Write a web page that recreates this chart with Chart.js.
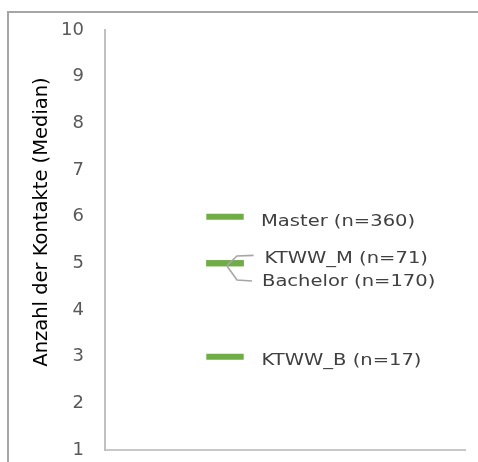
<!DOCTYPE html>
<html>
<head>
<meta charset="utf-8">
<script src="https://cdn.jsdelivr.net/npm/chart.js@4"></script>
<style>
  html, body { margin: 0; padding: 0; background: #fff; }
  #chart { display: block; }
</style>
</head>
<body>
<canvas id="chart" width="478" height="462"></canvas>
<script>
// Gruppen und Mediane der Kontakte
const gruppen = ['Master (n=360)', 'KTWW_M (n=71)', 'Bachelor (n=170)', 'KTWW_B (n=17)'];
const mediane = [6, 5, 5, 3];
const spalte = [1, 1, 1, 1];
const yTicks = [1, 2, 3, 4, 5, 6, 7, 8, 9, 10];
const achsenTitel = 'Anzahl der Kontakte (Median)';

const GRUEN = '#70ad47';
const TEXT_FONT = '"DejaVu Sans", sans-serif';

// Beschriftung rechts neben den Markern (Versatz zum Punkt, ggf. Führungslinie)
const beschriftung = [
    { dx: 36, dy: 9 },
    { dx: 39.5, dy: 0, linie: [[28.6, -8], [12, -7.3], [2, 2]] },
    { dx: 37, dy: 22.7, linie: [[2, 2.7], [12, 16.7], [27, 17.7]] },
    { dx: 36.5, dy: 8 }
];

// Rahmen um das Diagramm (oben und links sichtbar)
const rahmen = {
    id: 'rahmen',
    beforeDraw(chart) {
        const ctx = chart.ctx;
        ctx.save();
        ctx.strokeStyle = '#a6a6a6';
        ctx.lineWidth = 2;
        ctx.beginPath();
        ctx.moveTo(8, chart.height + 5);
        ctx.lineTo(8, 12);
        ctx.lineTo(chart.width + 5, 12);
        ctx.stroke();
        ctx.restore();
    }
};

const punktLabels = {
    id: 'punktLabels',
    afterDatasetsDraw(chart) {
        const ctx = chart.ctx;
        const meta = chart.getDatasetMeta(0);
        meta.data.forEach((pt, i) => {
            const b = beschriftung[i];
            if (b.linie) {
                ctx.save();
                ctx.strokeStyle = '#a6a6a6';
                ctx.lineWidth = 1.6;
                ctx.beginPath();
                b.linie.forEach(([lx, ly], k) => {
                    if (k === 0) ctx.moveTo(pt.x + lx, pt.y + ly);
                    else ctx.lineTo(pt.x + lx, pt.y + ly);
                });
                ctx.stroke();
                ctx.restore();
            }
            ctx.save();
            ctx.translate(pt.x + b.dx, pt.y + b.dy);
            ctx.scale(1.22, 1);
            ctx.font = '16px ' + TEXT_FONT;
            ctx.fillStyle = '#404040';
            ctx.textAlign = 'left';
            ctx.textBaseline = 'alphabetic';
            ctx.fillText(gruppen[i], 0, 0);
            ctx.restore();
        });
    }
};

// Achsentitel links, gedreht
const yTitel = {
    id: 'yTitel',
    afterDraw(chart) {
        const ctx = chart.ctx;
        ctx.save();
        ctx.translate(47, 222);
        ctx.rotate(-Math.PI / 2);
        ctx.font = '19.5px ' + TEXT_FONT;
        ctx.fillStyle = '#000';
        ctx.textAlign = 'center';
        ctx.textBaseline = 'alphabetic';
        ctx.fillText(achsenTitel, 0, 0);
        ctx.restore();
    }
};

new Chart(document.getElementById('chart'), {
    type: 'scatter',
    data: {
        datasets: [{
            label: 'Median',
            data: mediane.map((v, i) => ({ x: spalte[i], y: v })),
            showLine: false,
            pointStyle: 'line',
            pointRadius: 18.7,
            pointHoverRadius: 18.7,
            pointBorderWidth: 6,
            pointHoverBorderWidth: 6,
            pointBorderColor: GRUEN,
            pointBackgroundColor: GRUEN,
            clip: false
        }]
    },
    options: {
        responsive: false,
        animation: false,
        events: [],
        layout: { autoPadding: false, padding: { top: 30, right: 13, bottom: 12, left: 0 } },
        plugins: {
            legend: { display: false },
            tooltip: { enabled: false }
        },
        scales: {
            x: {
                type: 'linear',
                min: 0,
                max: 3,
                ticks: { display: false },
                grid: { display: false, drawTicks: false },
                border: { display: true, color: '#c8c8c8', width: 2 }
            },
            y: {
                type: 'linear',
                min: 1,
                max: 10,
                afterBuildTicks: (scale) => { scale.ticks = yTicks.map(v => ({ value: v })); },
                afterFit: (scale) => {
                    scale.width = 105;
                    scale.paddingTop = 0;
                    scale.paddingBottom = 0;
                },
                ticks: {
                    color: '#595959',
                    padding: 21,
                    font: { family: TEXT_FONT, size: 18 }
                },
                grid: { display: false, drawTicks: false },
                border: { display: true, color: '#c0c0c0', width: 2 }
            }
        }
    },
    plugins: [rahmen, punktLabels, yTitel]
});
</script>
</body>
</html>
